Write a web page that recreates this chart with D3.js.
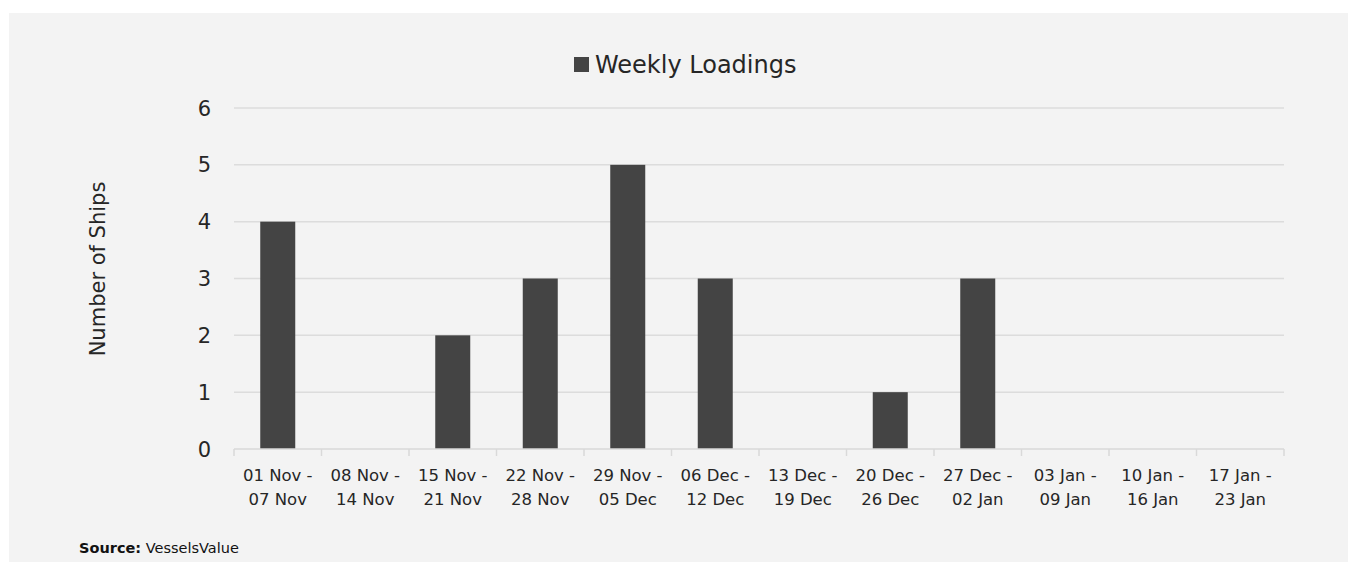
<!DOCTYPE html>
<html>
<head>
<meta charset="utf-8">
<script src="https://cdn.jsdelivr.net/npm/d3@7"></script>
<style>
  body { margin: 0; background: #fff; }
  svg { display: block; font-family: "DejaVu Sans", sans-serif; }
</style>
</head>
<body>
<div id="chart"></div>
<script>
// chart data
const weekStart = ["01 Nov", "08 Nov", "15 Nov", "22 Nov", "29 Nov", "06 Dec", "13 Dec", "20 Dec", "27 Dec", "03 Jan", "10 Jan", "17 Jan"];
const weekEnd = ["07 Nov", "14 Nov", "21 Nov", "28 Nov", "05 Dec", "12 Dec", "19 Dec", "26 Dec", "02 Jan", "09 Jan", "16 Jan", "23 Jan"];
const loadings = [4, 0, 2, 3, 5, 3, 0, 1, 3, 0, 0, 0];
const yTicks = [0, 1, 2, 3, 4, 5, 6];

const W = 1358, H = 574;
const plot = {left: 234, right: 1284, top: 108, bottom: 449};

const svg = d3.select("#chart")
  .append("svg")
    .attr("width", W)
    .attr("height", H);

// grey panel
svg.append("rect")
  .attr("x", 9).attr("y", 13)
  .attr("width", 1339).attr("height", 549)
  .attr("fill", "#f3f3f3");

const x = d3.scaleBand()
  .domain(weekStart)
  .range([plot.left, plot.right])
  .paddingInner(0.6)
  .paddingOuter(0.3);

const y = d3.scaleLinear()
  .domain([0, 6])
  .range([plot.bottom, plot.top]);

// gridlines
svg.append("g")
  .selectAll("line")
  .data(yTicks.filter(d => d > 0))
  .join("line")
    .attr("x1", plot.left).attr("x2", plot.right)
    .attr("y1", d => y(d)).attr("y2", d => y(d))
    .attr("stroke", "#dcdcdc")
    .attr("stroke-width", 1.5);

// y tick labels
svg.append("g")
  .selectAll("text")
  .data(yTicks)
  .join("text")
    .attr("x", 211)
    .attr("y", d => y(d))
    .attr("dy", "0.36em")
    .attr("text-anchor", "end")
    .attr("fill", "#262626")
    .style("font-size", "21px")
    .text(d => d);

// bars
svg.append("g")
  .selectAll("rect")
  .data(loadings)
  .join("rect")
    .attr("x", (d, i) => x(weekStart[i]))
    .attr("y", d => y(d))
    .attr("width", x.bandwidth())
    .attr("height", d => y(0) - y(d))
    .attr("fill", "#444444");

// x axis line and boundary ticks
const step = x.step();
const axis = svg.append("g").attr("stroke", "#d9d9d9").attr("stroke-width", 1.5);
axis.append("line")
  .attr("x1", plot.left).attr("x2", plot.right)
  .attr("y1", y(0)).attr("y2", y(0));
axis.selectAll("line.tick")
  .data(d3.range(weekStart.length + 1))
  .join("line")
    .attr("class", "tick")
    .attr("x1", i => plot.left + i * step).attr("x2", i => plot.left + i * step)
    .attr("y1", y(0)).attr("y2", y(0) + 7);

// x labels (two lines)
const xl = svg.append("g")
  .selectAll("text")
  .data(weekStart)
  .join("text")
    .attr("text-anchor", "middle")
    .attr("fill", "#262626")
    .style("font-size", "16.5px")
    .attr("transform", d => `translate(${x(d) + x.bandwidth() / 2},0)`);
xl.append("tspan").attr("x", 0).attr("y", 481).text(d => d + " -");
xl.append("tspan").attr("x", 0).attr("y", 505).text((d, i) => weekEnd[i]);

// y axis title
svg.append("text")
  .attr("transform", "translate(105,269) rotate(-90)")
  .attr("text-anchor", "middle")
  .attr("fill", "#262626")
  .style("font-size", "21px")
  .text("Number of Ships");

// legend
const legend = svg.append("g").attr("transform", "translate(574,57)");
legend.append("rect")
  .attr("width", 15).attr("height", 15)
  .attr("fill", "#444444");
legend.append("text")
  .attr("x", 21).attr("y", 16)
  .attr("fill", "#262626")
  .style("font-size", "24px")
  .text("Weekly Loadings");

// source note
const src = svg.append("text")
  .attr("x", 79).attr("y", 553)
  .attr("fill", "#111")
  .style("font-size", "14.5px");
src.append("tspan").style("font-weight", "bold").text("Source:");
src.append("tspan").text(" VesselsValue");
</script>
</body>
</html>
